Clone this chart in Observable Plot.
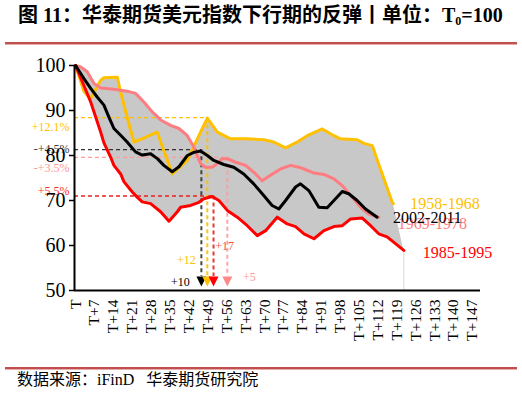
<!DOCTYPE html>
<html><head><meta charset="utf-8">
<script src="https://cdn.jsdelivr.net/npm/d3@7"></script>
<script src="https://cdn.jsdelivr.net/npm/@observablehq/plot@0.6"></script>
<style>
body{margin:0;background:#fff;width:522px;height:393px;position:relative;overflow:hidden;font-family:"Liberation Serif","Noto Sans CJK SC",serif;color:#000;}
#title{position:absolute;left:18px;top:3px;font-size:20px;font-weight:bold;white-space:pre;line-height:24px;}
#title sub{font-size:12px;vertical-align:-3px;}
.rule{position:absolute;left:5px;width:512px;height:2px;background:#c0504d;border-bottom:1px solid #e8aaaa;}
#chart{position:absolute;left:0;top:48px;}
#source{position:absolute;left:17px;top:370px;font-size:16px;white-space:pre;line-height:20px;}
</style></head>
<body>
<div id="title">图 11：华泰期货美元指数下行期的反弹丨单位：T<sub>0</sub>=100</div>
<div class="rule" style="top:42px"></div>
<div id="chart"></div>
<div class="rule" style="top:367px"></div>
<div id="source">数据来源：iFinD   华泰期货研究院</div>
<script>
// ---- data (day after T, index value with T0 = 100) ----
const seriesNames = ["1958-1968", "1969-1978", "1985-1995", "2002-2011"];
const s1958 = [[0,100],[3.1,94.2],[5.5,92.6],[9.3,96.7],[10.5,97.3],[15.5,97.4],[16.5,94.5],[19.1,88.5],[21.6,83],[25,83.8],[30.2,85.2],[35.8,75.9],[41.4,78.9],[46.3,85.2],[48.8,88.3],[52.5,85.2],[57.4,83.7],[63.6,83.7],[69.7,83.5],[73.4,83],[77.8,81.7],[82.1,83],[85.8,84.4],[91.4,85.9],[95.7,84.4],[98.1,83.7],[104.3,83.5],[106.8,82.7],[109.9,82.2],[113,76.9],[117.3,69.6],[117.7,69.3]];
const s1969 = [[0,100],[1.9,99.7],[4.3,98.6],[6.8,96],[9.3,95],[14.2,94.7],[19.1,94.3],[22.2,93.8],[25.3,91.9],[28.4,89.7],[31.5,87.9],[35.2,86.7],[38.3,86],[41.4,84.4],[43.8,81.9],[46.3,78.2],[48.1,77.4],[50.6,77.4],[52.5,78.2],[54.3,79.3],[56.2,79.3],[59.3,78.5],[63,77.8],[66.7,75.9],[69.1,74.4],[72.2,75.6],[75.9,77],[79.6,77.8],[82.7,77.4],[84.6,77],[88.3,76.1],[92,75.8],[95.7,74.8],[98.8,73.3],[101.9,71.1],[105.6,68.5],[108.6,67],[112.3,66.3]];
const s1985 = [[0,100],[5.6,91.9],[9.3,85.2],[10.5,82.8],[13,79.6],[14.2,77.8],[16.7,75.9],[17.9,74.2],[21,71.9],[22.9,70.7],[24.7,69.7],[27.8,69.3],[31.5,67.5],[34.6,65.4],[37.7,67.5],[38.9,68.5],[42.6,68.9],[45.7,69.6],[47.5,70.4],[50.6,70.9],[53.1,70],[56.2,67.8],[59.9,66.3],[63.6,64.4],[67.3,62.2],[70.4,63.3],[74.7,66.3],[78.4,64.8],[81.5,64.2],[84.6,62.6],[88.3,61.5],[92,63.3],[95.7,64.2],[98.8,64.4],[101.9,65.9],[106.2,66.1],[109.3,64.4],[112.3,62.6],[115.4,61.9],[118.5,60.4],[121.6,58.9]];
const s2002 = [[0,100],[3.1,97.1],[5.6,94.9],[8,93],[10.5,91.2],[12.3,88.6],[14.2,86],[16.7,84.5],[19.1,83],[22.2,80.8],[24.7,80.1],[27.8,80.4],[30.3,79.3],[32.7,77.8],[35.8,76.4],[38.3,77.5],[41.4,80],[43.8,80.7],[46.3,81],[48.8,80],[51.2,78.9],[54.9,78],[58.6,77.4],[62.3,75.9],[66,73.7],[69.7,71.1],[72.8,68.9],[75.3,68.1],[77.8,70],[81.5,73],[83.3,73.7],[86.4,72.2],[90.1,68.5],[93.2,68.4],[95.7,70],[98.8,72],[101.2,71.5],[104.3,70],[107.4,68.1],[111.7,66.3]];

// rebound peaks (same order as seriesNames)
const peakDays   = [48.8, 56.2, 51.1, 46.6];
const peakValues = [88.4, 79.6, 71.0, 81.3];
const peakPct    = ["+12.1%", "-+3.5%", "+5.5%", "-+4.5%"];
const reboundLbl = ["+12", "+5", "+17", "+10"];

// x axis ticks
const xTickDays   = [0,7,14,21,28,35,42,49,56,63,70,77,84,91,98,105,112,119,126,133,140,147];
const xTickLabels = ["T","T+7","T+14","T+21","T+28","T+35","T+42","T+49","T+56","T+63","T+70","T+77","T+84","T+91","T+98","T+105","T+112","T+119","T+126","T+133","T+140","T+147"];
const yTicks = [50,60,70,80,90,100];

// ---- styles ----
const colors = ["#ffc000", "#ff7c80", "#ff0000", "#000000"];
const dashColors = ["#ffc000", "#ff9c9c", "#e82020", "#333333"];
const pctColors = ["#ffc000", "#ff9999", "#ff3030", "#404040"];
const pctDy = [9, 11, -5, 0];
const rebColors = ["#ffc000", "#ff9999", "#f05050", "#000000"];
const rebDx = [-21, 22, 11, -21];
const rebDy = [-21, -4, -35, 1];
const legDx = [17, 19, 19, 16];
const legDy = [0, 7, 2, 1];
const arrowY = 52, arrowTop = 53.1;

const series = [s1958, s1969, s1985, s2002];

// envelope band (min / max of all series)
function valueAt(s, d) {
  if (d < s[0][0] || d > s[s.length - 1][0]) return null;
  for (let i = 1; i < s.length; i++) {
    if (d <= s[i][0]) {
      const [d0, v0] = s[i - 1], [d1, v1] = s[i];
      return d1 === d0 ? v1 : v0 + (v1 - v0) * (d - d0) / (d1 - d0);
    }
  }
  return s[s.length - 1][1];
}
const allDays = Array.from(new Set(series.flatMap(s => s.map(p => p[0])))).sort((a, b) => a - b);
const lastDay = d3.max(series, s => s[s.length - 1][0]);
const band = [];
for (const d of allDays) {
  const vals = series.map(s => valueAt(s, d)).filter(v => v != null);
  if (vals.length >= 2 || d === lastDay) band.push({d, lo: d3.min(vals), hi: d3.max(vals)});
}
const lastRed = s1985[s1985.length - 1];

const peaks = seriesNames.map((n, i) => ({i, name: n, d: peakDays[i], v: peakValues[i], pct: peakPct[i], reb: reboundLbl[i]}));
const ends = series.map((s, i) => ({i, name: seriesNames[i], d: s[s.length - 1][0], v: s[s.length - 1][1]}));

const triDown = {
  draw(ctx, size) {
    const r = Math.sqrt(size / Math.PI) * 1.25;
    ctx.moveTo(-r, -r); ctx.lineTo(r, -r); ctx.lineTo(0, r); ctx.closePath();
  }
};

const xDom = [-0.4, 150];
const tickMap = new Map(xTickDays.map((d, i) => [d, xTickLabels[i]]));
const lineOrder = [0, 1, 2, 3];

const marks = [
  Plot.areaY(band, {x: "d", y1: "lo", y2: "hi", fill: "#c8c8c8"}),
  Plot.ruleX([lastRed], {x: d => d[0], y1: 50, y2: d => d[1], stroke: "#d8d8d8", strokeWidth: 1}),
  // horizontal dashed to the peaks
  ...peaks.map(p => Plot.ruleY([p], {y: "v", x1: xDom[0], x2: "d", stroke: dashColors[p.i], strokeWidth: 1.3, strokeDasharray: "4,3"})),
  // vertical dashed down to arrows
  ...peaks.map(p => Plot.ruleX([p], {x: "d", y1: "v", y2: arrowTop, stroke: dashColors[p.i], strokeWidth: 2, strokeDasharray: "4,3", strokeOpacity: 0.9})),
  // series lines
  ...lineOrder.map(i => Plot.line(series[i], {x: d => d[0], y: d => d[1], stroke: colors[i], strokeWidth: 3, strokeLinejoin: "round", strokeLinecap: "round"})),
  // arrows
  ...[3, 0, 2, 1].map(i => Plot.dot([peaks[i]], {x: "d", y: arrowY, symbol: triDown, r: 4, fill: i === 1 ? "#ff8888" : colors[i], stroke: "none"})),
  // rebound day labels
  ...peaks.map(p => Plot.text([p], {x: "d", y: arrowY, text: "reb", fill: rebColors[p.i], fontSize: 12, dx: rebDx[p.i], dy: rebDy[p.i]})),
  // percent labels on the left
  ...peaks.map(p => Plot.text([p], {y: "v", text: "pct", frameAnchor: "left", textAnchor: "end", dx: -5, dy: pctDy[p.i], fill: pctColors[p.i], fontSize: 12})),
  // series name labels
  ...[0, 1, 3, 2].map(i => Plot.text([ends[i]], {x: "d", y: "v", text: "name", textAnchor: "start", dx: legDx[i], dy: legDy[i], fill: colors[i], fontSize: 16})),
  // axes
  Plot.axisY({ticks: yTicks, tickSize: 5, tickPadding: 4, fontSize: 20, strokeWidth: 1.5, label: null}),
  Plot.axisX({ticks: xTickDays, tickFormat: d => tickMap.get(d), tickRotate: -90, tickSize: 0, tickPadding: 9, fontSize: 15.5, label: null}),
  Plot.ruleX([xDom[0]], {stroke: "#000", strokeWidth: 2}),
  Plot.ruleY([50], {stroke: "#000", strokeWidth: 2})
];

const chart = Plot.plot({
  width: 522, height: 318,
  marginTop: 17, marginBottom: 76, marginLeft: 74, marginRight: 42,
  x: {domain: xDom},
  y: {domain: [50, 100]},
  style: {fontFamily: "Liberation Serif, serif", background: "transparent", overflow: "visible", color: "#000"},
  marks
});
document.getElementById("chart").appendChild(chart);
</script>
</body></html>
